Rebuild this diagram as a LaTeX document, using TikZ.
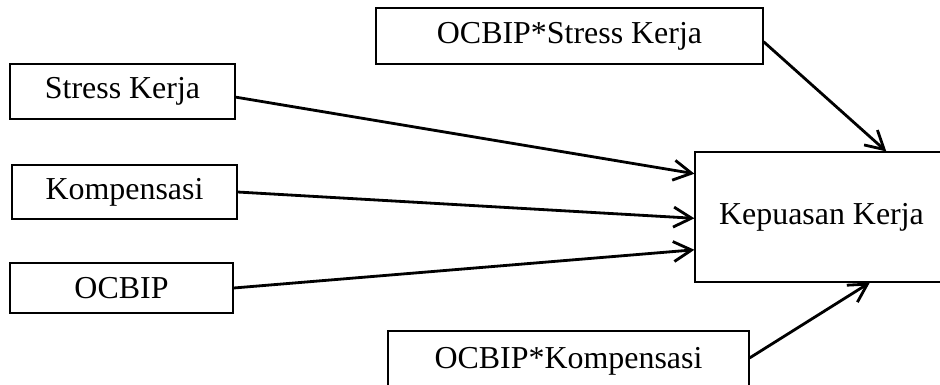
\documentclass[tikz,border=0pt]{standalone}
\usepackage{fontspec}
\setmainfont{Liberation Serif}
\usetikzlibrary{arrows.meta,calc}
\tikzset{
  var/.style={draw, line width=0.8pt, text centered, font=\fontsize{22.7}{27}\selectfont},
  link/.style={line width=2pt, -{Straight Barb[length=0.45cm, width=0.5cm, line width=2pt]}}
}

\begin{document}
\begin{tikzpicture}[x=0.025cm, y=-0.025cm]%
\useasboundingbox (0,0) rectangle (940,384);%
\clip (0,0) rectangle (940,384);%
\node[var, minimum width=5.625cm, minimum height=1.375cm] (skerja) at (122.5, 91.5) {Stress Kerja};%
\node[var, minimum width=5.625cm, minimum height=1.35cm] (komp) at (124.5, 192) {Kompensasi};%
\node[var, minimum width=5.575cm, minimum height=1.25cm] (ocbip) at (121.5, 288) {OCBIP};%
\node[var, minimum width=9.675cm, minimum height=1.4cm] (ocbipsk) at (569.5, 36) {OCBIP*Stress Kerja};%
\node[var, minimum width=9.025cm, minimum height=1.5cm] (ocbipk) at (568.5, 361) {OCBIP*Kompensasi};%
\node[var, minimum width=6.325cm, minimum height=3.25cm] (puas) at (821.5, 217) {Kepuasan Kerja};%
\draw[link] ($(skerja.north east)!0.6!(skerja.south east)$) -- ($(puas.north west)!0.17!(puas.south west)$);%
\draw[link] (komp.east) -- ($(puas.north west)!0.51!(puas.south west)$);%
\draw[link] (ocbip.east) -- ($(puas.north west)!0.75!(puas.south west)$);%
\draw[link] ($(ocbipsk.north east)!0.6!(ocbipsk.south east)$) -- ($(puas.north west)!0.755!(puas.north east)$);%
\draw[link] ($(ocbipk.north east)!0.45!(ocbipk.south east)$) -- ($(puas.south west)!0.69!(puas.south east)$);%
\end{tikzpicture}
\end{document}
